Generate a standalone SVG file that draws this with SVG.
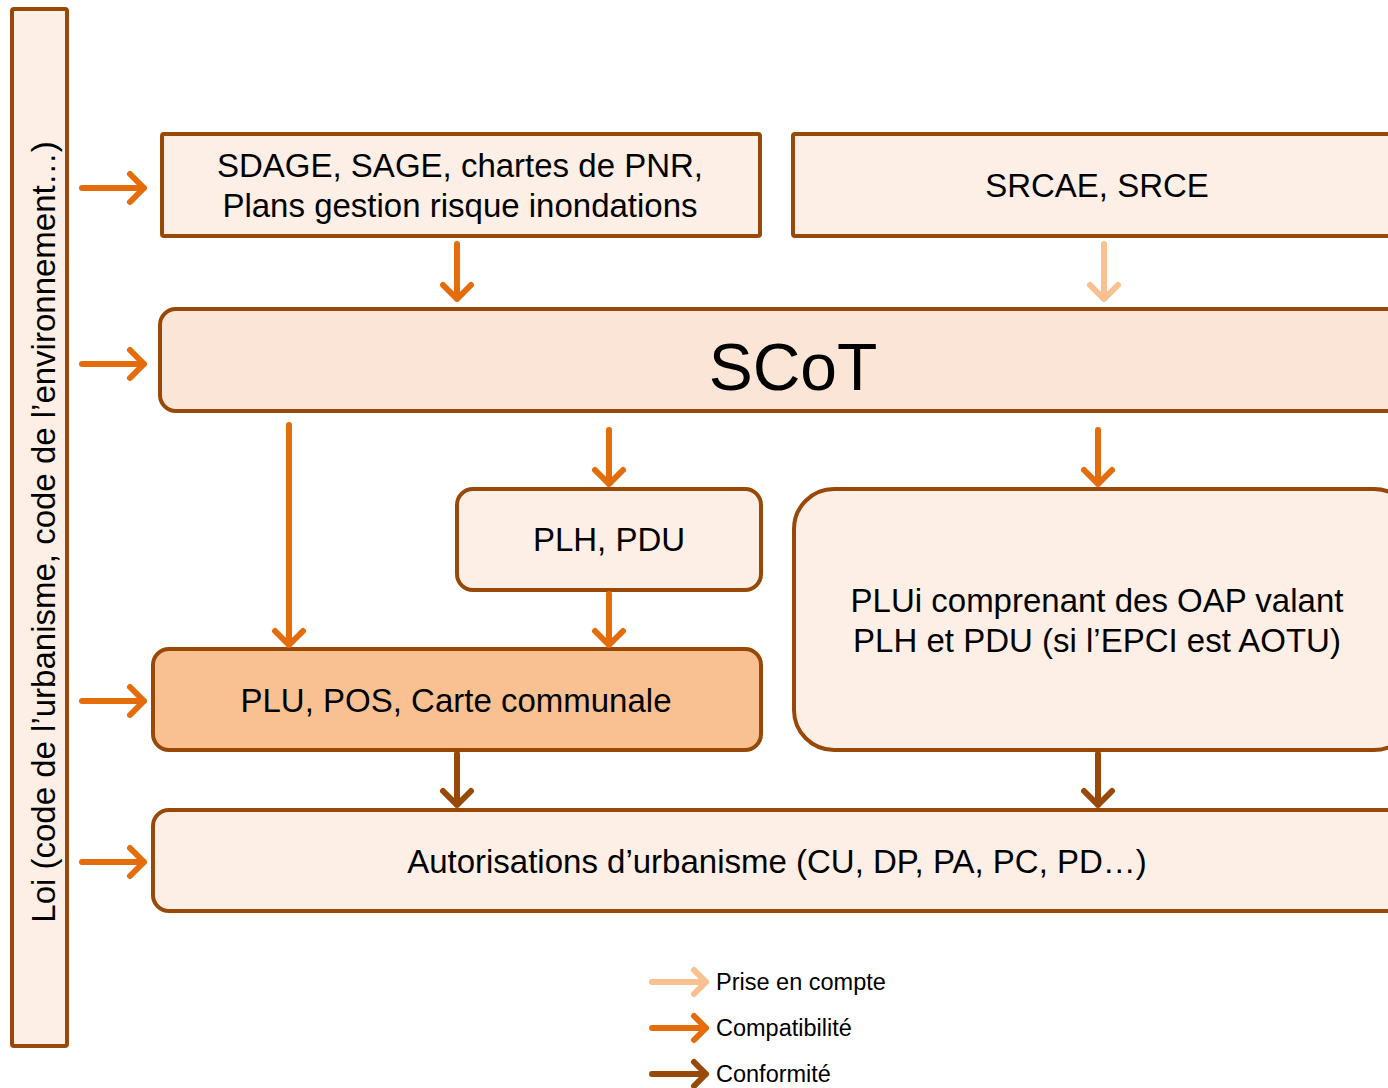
<svg xmlns="http://www.w3.org/2000/svg" width="1388" height="1088" viewBox="0 0 1388 1088">
<style>
.box{stroke:#984807;stroke-width:4;fill:#FDEFE6}
.scot{fill:#FBE5D6}
.plu{fill:#F9C092}
text{font-family:"Liberation Sans",Arial,sans-serif;fill:#000}
.t{font-size:33px;text-anchor:middle}
.leg{font-size:23.5px}
.a{fill:none;stroke-width:6;stroke-linecap:round;stroke-linejoin:round}
.light{stroke:#FAC090}
.mid{stroke:#E46C0A}
.dark{stroke:#984807}
</style>
<rect width="1388" height="1088" fill="#fff"/>
<g id="loi">
<rect class="box" x="12" y="9" width="55" height="1037" rx="2"/>
<text class="t" transform="translate(55,532) rotate(-90)">Loi (code de l’urbanisme, code de l’environnement…)</text>
</g>
<g id="sdage">
<rect class="box" x="162" y="134" width="598" height="102" rx="2"/>
<text class="t" x="460" y="177">SDAGE, SAGE, chartes de PNR,</text>
<text class="t" x="460" y="217">Plans gestion risque inondations</text>
</g>
<g id="srcae">
<rect class="box" x="793" y="134" width="620" height="102" rx="2"/>
<text class="t" x="1097" y="197">SRCAE, SRCE</text>
</g>
<g id="scot">
<rect class="box scot" x="160" y="309" width="1250" height="102" rx="16"/>
<text class="t" style="font-size:66px" x="793" y="390">SCoT</text>
</g>
<g id="plh">
<rect class="box" x="457" y="489" width="304" height="101" rx="16"/>
<text class="t" x="609" y="551">PLH, PDU</text>
</g>
<g id="plui">
<rect class="box" x="794" y="489" width="620" height="261" rx="40"/>
<text class="t" x="1097" y="612">PLUi comprenant des OAP valant</text>
<text class="t" x="1097" y="652">PLH et PDU (si l’EPCI est AOTU)</text>
</g>
<g id="plu">
<rect class="box plu" x="153" y="649" width="608" height="101" rx="16"/>
<text class="t" x="456" y="712">PLU, POS, Carte communale</text>
</g>
<g id="autorisations">
<rect class="box" x="153" y="810" width="1260" height="101" rx="16"/>
<text class="t" x="777" y="873">Autorisations d’urbanisme (CU, DP, PA, PC, PD…)</text>
</g>
<g id="connectors">
<path class="a mid" d="M82 188H144M130 174L144 188L130 202"/>
<path class="a mid" d="M82 364H144M130 350L144 364L130 378"/>
<path class="a mid" d="M82 701H144M130 687L144 701L130 715"/>
<path class="a mid" d="M82 862H144M130 848L144 862L130 876"/>
<path class="a mid" d="M457 244V299M443 285L457 299L471 285"/>
<path class="a light" d="M1104 244V299M1090 285L1104 299L1118 285"/>
<path class="a mid" d="M289 425V645M275 631L289 645L303 631"/>
<path class="a mid" d="M609 430V484M595 470L609 484L623 470"/>
<path class="a mid" d="M1098 430V484M1084 470L1098 484L1112 470"/>
<path class="a mid" d="M609 594V645M595 631L609 645L623 631"/>
<path class="a dark" d="M457 754V805M443 791L457 805L471 791"/>
<path class="a dark" d="M1098 754V805M1084 791L1098 805L1112 791"/>
</g>
<g id="legend">
<path class="a light" d="M652 982H706M694 970L706 982L694 994"/>
<path class="a mid" d="M652 1028H706M694 1016L706 1028L694 1040"/>
<path class="a dark" d="M652 1074H706M694 1062L706 1074L694 1086"/>
<text class="leg" x="716" y="990">Prise en compte</text>
<text class="leg" x="716" y="1036">Compatibilité</text>
<text class="leg" x="716" y="1082">Conformité</text>
</g>
</svg>
